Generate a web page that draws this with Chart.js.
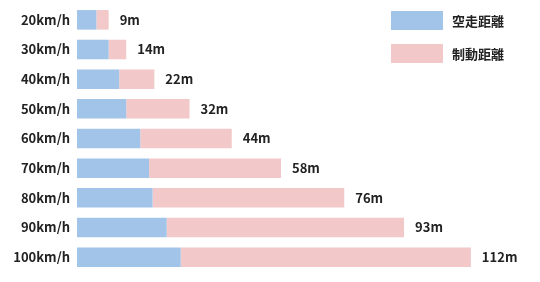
<!DOCTYPE html>
<html>
<head>
<meta charset="utf-8">
<script src="https://cdn.jsdelivr.net/npm/chart.js@4"></script>
<style>
  html, body { margin: 0; padding: 0; background: #fff; }
  #wrap { position: relative; width: 540px; height: 282px; }
  #legend { position: absolute; left: 391px; top: 11px; font-family: "Noto Sans CJK JP", sans-serif; font-weight: bold; font-size: 13px; color: #222; }
  .item { display: flex; align-items: center; height: 19px; margin-bottom: 14px; }
  .box { width: 52px; height: 19px; margin-right: 9px; }
</style>
</head>
<body>
<div id="wrap">
  <canvas id="chart" width="540" height="282"></canvas>
  <div id="legend"></div>
</div>
<script>
const speeds = ["20km/h", "30km/h", "40km/h", "50km/h", "60km/h", "70km/h", "80km/h", "90km/h", "100km/h"]
const freeRun = [5.5, 9, 12, 14, 18, 20.5, 21.5, 25.5, 29.5]
const braking = [3.5, 5, 10, 18, 26, 37.5, 54.5, 67.5, 82.5]
const totals = [9, 14, 22, 32, 44, 58, 76, 93, 112]

const blue = "#a2c4e8"
const pink = "#f2c8c9"
const font = "'Noto Sans CJK JP', sans-serif"

// 合計の距離をバーの右に書く
const totalLabels = {
  id: 'totalLabels',
  afterDatasetsDraw(chart) {
    const ctx = chart.ctx
    const meta = chart.getDatasetMeta(1)
    ctx.save()
    ctx.font = "bold 13px " + font
    ctx.fillStyle = "#222"
    ctx.textBaseline = "middle"
    meta.data.forEach((bar, i) => {
      ctx.fillText(totals[i] + "m", bar.x + 11, bar.y)
    })
    ctx.restore()
  }
}

const chart = new Chart(document.getElementById('chart'), {
  type: 'bar',
  data: {
    labels: speeds,
    datasets: [
      { label: "空走距離", data: freeRun, backgroundColor: blue },
      { label: "制動距離", data: braking, backgroundColor: pink }
    ]
  },
  options: {
    indexAxis: 'y',
    responsive: false,
    animation: false,
    layout: { padding: { top: 5, bottom: 10, right: 41, left: 0 } },
    datasets: { bar: { categoryPercentage: 1, barPercentage: 0.66 } },
    scales: {
      x: { stacked: true, min: 0, max: 120, display: false },
      y: {
        stacked: true,
        grid: { display: false, drawTicks: false },
        border: { display: false },
        ticks: { color: "#222", padding: 7, font: { family: font, size: 13, weight: 'bold' } },
        afterFit(scale) {
          scale.width = 77
          scale.paddingTop = 0
          scale.paddingBottom = 0
        }
      }
    },
    plugins: {
      legend: { display: false },
      tooltip: { enabled: false }
    }
  },
  plugins: [totalLabels]
})

const legend = document.getElementById('legend')
chart.data.datasets.forEach(ds => {
  const item = document.createElement('div')
  item.className = 'item'
  item.innerHTML = '<span class="box" style="background:' + ds.backgroundColor + '"></span><span>' + ds.label + '</span>'
  legend.appendChild(item)
})
</script>
</body>
</html>
